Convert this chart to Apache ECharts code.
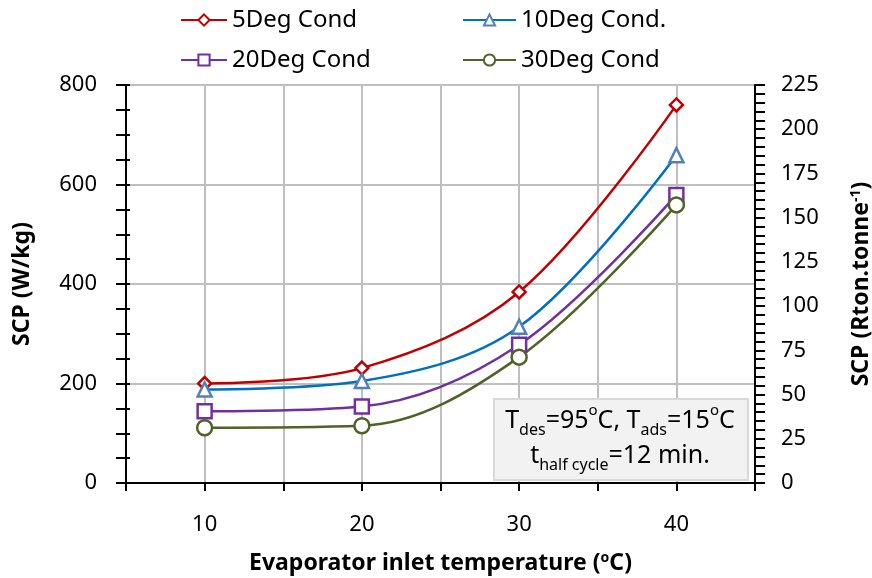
<!DOCTYPE html>
<html>
<head>
<meta charset="utf-8">
<script src="https://cdn.jsdelivr.net/npm/echarts@6/dist/echarts.min.js"></script>
<style>
  html, body { margin: 0; padding: 0; background: #fff; }
  #chart { width: 872px; height: 578px; }
</style>
</head>
<body>
<div id="chart"></div>
<script>
// evaporator inlet temperature (oC)
var temps = [10, 20, 30, 40];
var xTickLabels = [10, 20, 30, 40];
// SCP (W/kg)
var cond5 = [200, 231, 384, 760];
var cond10 = [188, 205, 314, 659];
var cond20 = [144, 154, 278, 579];
var cond30 = [111, 115, 253, 559];

var seriesNames = ['5Deg Cond', '10Deg Cond.', '20Deg Cond', '30Deg Cond'];

function pairs(vals) {
  return temps.map(function (t, i) { return [t, vals[i]]; });
}

var FONT = 'Noto Sans';
var chart = echarts.init(document.getElementById('chart'));

function makeSeries(name, vals, lineColor, markColor, symbol, size) {
  return {
    name: name,
    type: 'line',
    data: pairs(vals),
    smooth: 0.35,
    symbol: symbol,
    symbolSize: size,
    lineStyle: { color: lineColor, width: 2.5 },
    itemStyle: { color: '#fff', borderColor: markColor, borderWidth: 2.5 },
    emphasis: { disabled: true }
  };
}

var legendText = { fontFamily: FONT, fontSize: 24, color: '#000', lineHeight: 26 };
var nameRich = {
  b: { fontFamily: FONT, fontSize: 23, fontWeight: 'bold', color: '#000' },
  s: { fontFamily: FONT, fontSize: 14, fontWeight: 'bold', color: '#000', verticalAlign: 'top', padding: [0, 0, 10, 0] }
};

var options = {
  animation: false,
  backgroundColor: '#fff',
  legend: [
    {
      data: [seriesNames[0], seriesNames[2]],
      orient: 'vertical',
      left: 180, top: 7, padding: 0,
      itemWidth: 46, itemHeight: 14, itemGap: 14,
      textStyle: legendText
    },
    {
      data: [seriesNames[1], seriesNames[3]],
      orient: 'vertical',
      left: 462, top: 7, padding: 0,
      itemWidth: 53, itemHeight: 14, itemGap: 14,
      textStyle: legendText
    }
  ],
  grid: { left: 126, right: 117, top: 85, bottom: 95, containLabel: false, outerBoundsMode: 'none' },
  xAxis: {
    type: 'value',
    min: 5, max: 45, interval: 5,
    name: '{b|Evaporator inlet temperature (}{s|o}{b|C)}',
    nameLocation: 'middle',
    nameGap: 68,
    nameTextStyle: { rich: nameRich },
    axisLine: { lineStyle: { color: '#000', width: 2 } },
    axisTick: { show: true, length: 8, lineStyle: { color: '#000', width: 2 } },
    axisLabel: {
      fontFamily: FONT, fontSize: 22, color: '#000', margin: 31,
      formatter: function (v) { return xTickLabels.indexOf(v) >= 0 ? String(v) : ''; }
    },
    splitLine: { show: true, lineStyle: { color: '#bfbfbf', width: 2 } }
  },
  yAxis: [
    {
      type: 'value',
      min: 0, max: 800, interval: 200,
      name: 'SCP (W/kg)',
      nameLocation: 'middle',
      nameRotate: 90,
      nameGap: 92,
      nameTextStyle: { fontFamily: FONT, fontSize: 23, fontWeight: 'bold', color: '#000' },
      axisLine: { show: true, lineStyle: { color: '#000', width: 2 } },
      axisTick: { show: true, length: 10, lineStyle: { color: '#000', width: 2 } },
      minorTick: { show: true, splitNumber: 4, length: 10, lineStyle: { color: '#000', width: 2 } },
      axisLabel: { fontFamily: FONT, fontSize: 22, color: '#000', margin: 29 },
      splitLine: { show: true, lineStyle: { color: '#bfbfbf', width: 2 } }
    },
    {
      type: 'value',
      min: 0, max: 225, interval: 25,
      position: 'right',
      name: '{b|SCP (Rton.tonne}{s|-1}{b|)}',
      nameLocation: 'middle',
      nameRotate: 90,
      nameGap: 94,
      nameTextStyle: { rich: nameRich },
      axisLine: { show: true, lineStyle: { color: '#000', width: 2 } },
      axisTick: { show: true, length: 10, lineStyle: { color: '#000', width: 2 } },
      minorTick: { show: true, splitNumber: 5, length: 10, lineStyle: { color: '#000', width: 2 } },
      axisLabel: { fontFamily: FONT, fontSize: 22, color: '#000', margin: 26 },
      splitLine: { show: false }
    },
    {
      // short inner part of the left ticks
      type: 'value',
      min: 0, max: 800, interval: 200,
      position: 'left',
      axisLine: { show: false },
      axisTick: { show: true, inside: true, length: 4, lineStyle: { color: '#000', width: 2 } },
      minorTick: { show: true, splitNumber: 4, length: 4, lineStyle: { color: '#000', width: 2 } },
      axisLabel: { show: false },
      splitLine: { show: false }
    }
  ],
  graphic: [
    {
      type: 'rect',
      left: 493, top: 398,
      z: 100,
      shape: { x: 0, y: 0, width: 254, height: 81 },
      style: { fill: '#f2f2f2', stroke: '#d9d9d9', lineWidth: 2 }
    },
    {
      type: 'text',
      x: 620, y: 438,
      z: 101,
      style: {
        text: '{m|T}{d|des}{m|=95}{u|o}{m|C, T}{d|ads}{m|=15}{u|o}{m|C}\n{m|t}{d|half cycle}{m|=12 min.}',
        align: 'center',
        verticalAlign: 'middle',
        lineHeight: 35,
        rich: {
          m: { fontFamily: FONT, fontSize: 25, color: '#000', lineHeight: 35 },
          d: { fontFamily: FONT, fontSize: 16, color: '#000', verticalAlign: 'bottom', lineHeight: 35, padding: [9, 0, 0, 0] },
          u: { fontFamily: FONT, fontSize: 15, color: '#000', verticalAlign: 'top', lineHeight: 35, padding: [0, 0, 9, 0] }
        }
      }
    }
  ],
  series: [
    makeSeries(seriesNames[0], cond5, '#c00000', '#c00000', 'diamond', 13),
    makeSeries(seriesNames[1], cond10, '#0070c0', '#4f81bd', 'triangle', 14),
    makeSeries(seriesNames[2], cond20, '#7030a0', '#7030a0', 'rect', 14),
    makeSeries(seriesNames[3], cond30, '#4f6228', '#4f6228', 'circle', 15)
  ]
};

chart.setOption(options);
</script>
</body>
</html>
